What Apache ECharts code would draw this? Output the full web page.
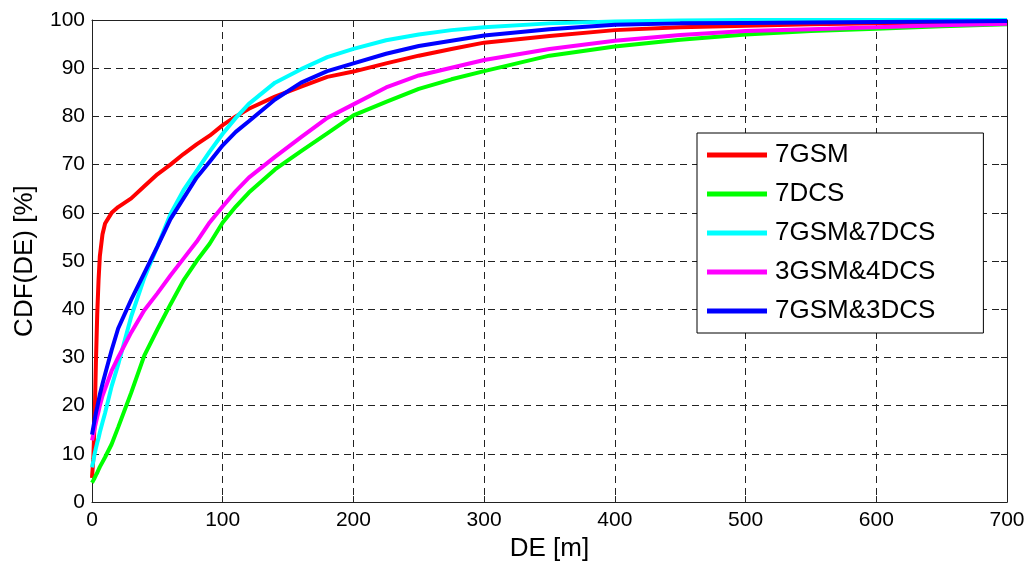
<!DOCTYPE html>
<html>
<head>
<meta charset="utf-8">
<script src="https://cdn.jsdelivr.net/npm/echarts@6/dist/echarts.min.js"></script>
<style>
  html, body { margin: 0; padding: 0; background: #fff; }
  #chart { width: 1029px; height: 567px; }
</style>
</head>
<body>
<div id="chart"></div>
<script>
// DE [m] sample points shared by all curves
const deValues = [0, 1, 2, 3, 4, 5, 6, 8, 10, 15, 20, 30, 40, 50, 60, 70, 80, 90, 100, 110, 120,
  140, 160, 180, 200, 225, 250, 275, 300, 350, 400, 450, 500, 550, 600, 650, 700];

// CDF values [%]
const cdf7GSM = [5, 9, 17, 29, 39, 46, 51, 55.5, 57.8, 60, 61.2, 63, 65.5, 68, 70, 72.2, 74.2, 76, 78.2, 80, 81.6,
  84.1, 86.2, 88.2, 89.3, 91, 92.6, 94, 95.3, 96.7, 97.9, 98.5, 98.8, 99.1, 99.3, 99.5, 99.7];
const cdf7DCS = [4, 4.5, 5, 5.6, 6.1, 6.7, 7.3, 8.3, 9.3, 12, 15.5, 22.7, 30.4, 35.8, 41, 46, 50, 53.6, 58, 61.3, 64.2,
  69, 72.8, 76.5, 80.2, 83, 85.7, 87.7, 89.4, 92.6, 94.5, 95.9, 97, 97.7, 98.2, 98.7, 99.1];
const cdf7GSM7DCS = [7.2, 8.5, 10, 11.2, 12.3, 13.3, 14.5, 16.5, 18.5, 24, 28.5, 38.5, 46.5, 53, 59.7, 64.7, 68.7, 72.7, 76.4, 79.7, 82.6,
  87, 89.8, 92.3, 94, 95.8, 97, 97.9, 98.5, 99.3, 99.7, 99.9, 100, 100, 100, 100, 100];
const cdf3GSM4DCS = [12.8, 14, 15.3, 16.5, 17.7, 18.8, 20, 22, 23.5, 27.2, 30, 35.2, 39.8, 43.3, 47, 50.5, 54, 58, 61.3, 64.5, 67.3,
  71.6, 75.7, 79.7, 82.5, 86, 88.5, 90.1, 91.7, 94, 95.7, 96.9, 97.7, 98.1, 98.5, 98.9, 99.2];
const cdf7GSM3DCS = [14, 15.5, 17, 18.5, 19.7, 21, 22.3, 24.5, 26.5, 31.5, 36, 42, 47.5, 53, 58.7, 63, 67.3, 70.6, 74, 76.8, 79,
  83.5, 87, 89.4, 91, 93, 94.6, 95.7, 96.8, 98.1, 99, 99.3, 99.4, 99.5, 99.6, 99.7, 99.8];

const seriesNames = ['7GSM', '7DCS', '7GSM&7DCS', '3GSM&4DCS', '7GSM&3DCS'];
const seriesColors = ['#ff0000', '#00ff00', '#00ffff', '#ff00ff', '#0000ff'];
const seriesData = [cdf7GSM, cdf7DCS, cdf7GSM7DCS, cdf3GSM4DCS, cdf7GSM3DCS];

const xTicks = { min: 0, max: 700, interval: 100 };
const yTicks = { min: 0, max: 100, interval: 10 };

const font = "'Liberation Sans', Arial, sans-serif";

var chart = echarts.init(document.getElementById('chart'));

const gridLine = {
  show: true,
  lineStyle: { color: '#222', width: 1, type: [7, 5] }
};
const boxLine = { show: true, onZero: false, lineStyle: { color: '#222', width: 1 } };
const inTick = { show: true, inside: true, length: 6, lineStyle: { color: '#222' } };

var option = {
  animation: false,
  backgroundColor: '#fff',
  textStyle: { fontFamily: font },
  grid: { left: 92, right: 22, top: 20, bottom: 62 },
  legend: {
    data: seriesNames,
    orient: 'vertical',
    left: 697,
    top: 133,
    icon: 'rect',
    itemWidth: 60,
    itemHeight: 5,
    itemGap: 13,
    padding: [9, 48, 9, 10],
    borderColor: '#000',
    borderWidth: 1,
    backgroundColor: '#fff',
    textStyle: { fontSize: 26, color: '#000', fontFamily: font, padding: [0, 0, 0, 3] }
  },
  xAxis: [
    {
      type: 'value',
      min: xTicks.min, max: xTicks.max, interval: xTicks.interval,
      name: 'DE [m]',
      nameLocation: 'middle',
      nameGap: 30,
      nameTextStyle: { fontSize: 26, color: '#000', fontFamily: font },
      axisLine: boxLine,
      axisTick: inTick,
      axisLabel: { fontSize: 21, color: '#000', margin: 8, fontFamily: font },
      splitLine: gridLine
    },
    {
      type: 'value', position: 'top',
      min: xTicks.min, max: xTicks.max, interval: xTicks.interval,
      axisLine: boxLine, axisTick: inTick,
      axisLabel: { show: false }, splitLine: { show: false }
    }
  ],
  yAxis: [
    {
      type: 'value',
      min: yTicks.min, max: yTicks.max, interval: yTicks.interval,
      name: 'CDF(DE) [%]',
      nameLocation: 'middle',
      nameGap: 54,
      nameTextStyle: { fontSize: 26, color: '#000', fontFamily: font },
      axisLine: boxLine,
      axisTick: inTick,
      axisLabel: { fontSize: 21, color: '#000', margin: 7, fontFamily: font },
      splitLine: gridLine
    },
    {
      type: 'value', position: 'right',
      min: yTicks.min, max: yTicks.max, interval: yTicks.interval,
      axisLine: boxLine, axisTick: inTick,
      axisLabel: { show: false }, splitLine: { show: false }
    }
  ],
  series: seriesNames.map((name, i) => ({
    name: name,
    type: 'line',
    xAxisIndex: 0,
    yAxisIndex: 0,
    symbol: 'none',
    color: seriesColors[i],
    lineStyle: { width: 4, color: seriesColors[i] },
    data: deValues.map((x, j) => [x, seriesData[i][j]])
  }))
};

chart.setOption(option);
</script>
</body>
</html>
